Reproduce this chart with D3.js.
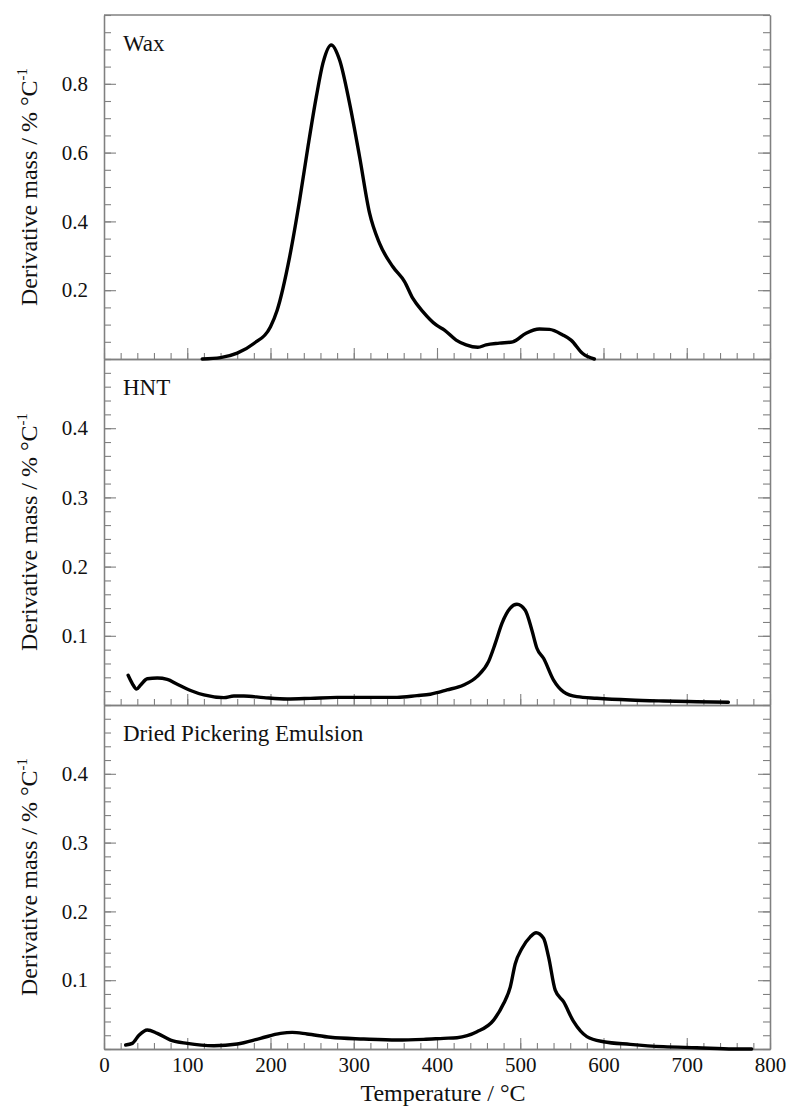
<!DOCTYPE html>
<html>
<head>
<meta charset="utf-8">
<script src="https://cdn.jsdelivr.net/npm/d3@7"></script>
<style>
  html, body { margin: 0; padding: 0; background: #fff; }
  svg { display: block; }
  svg text { font-family: "Liberation Serif", "Times New Roman", serif !important; fill: #111; }
</style>
</head>
<body>
<svg id="chart" width="788" height="1110"></svg>
<script>
// ---------------- data ----------------
const panelTitles = ["Wax", "HNT", "Dried Pickering Emulsion"];

const waxTemp  = [118, 140, 160, 180, 200, 208, 223, 235, 245, 255, 263, 273, 283, 295, 307, 319, 331, 347, 361, 371, 383, 399, 409, 423, 435, 449, 459, 475, 491, 507, 523, 535, 551, 561, 575, 589];
const waxDeriv = [0.000, 0.004, 0.017, 0.045, 0.094, 0.142, 0.297, 0.462, 0.617, 0.762, 0.860, 0.913, 0.869, 0.743, 0.588, 0.424, 0.336, 0.268, 0.225, 0.176, 0.138, 0.099, 0.084, 0.055, 0.041, 0.034, 0.041, 0.046, 0.050, 0.075, 0.087, 0.086, 0.070, 0.055, 0.016, 0.000];

const hntTemp  = [29, 34, 39, 44, 52, 64, 76, 88, 104, 120, 144, 156, 168, 192, 220, 248, 280, 320, 352, 376, 392, 412, 432, 448, 462, 470, 478, 488, 496, 506, 514, 520, 528, 540, 552, 568, 592, 632, 672, 712, 750];
const hntDeriv = [0.043, 0.031, 0.023, 0.029, 0.038, 0.039, 0.037, 0.030, 0.021, 0.0145, 0.0106, 0.013, 0.013, 0.0106, 0.0087, 0.0096, 0.011, 0.011, 0.011, 0.0135, 0.0155, 0.0217, 0.029, 0.041, 0.063, 0.089, 0.118, 0.140, 0.1455, 0.137, 0.108, 0.082, 0.0675, 0.036, 0.019, 0.012, 0.0097, 0.0072, 0.0058, 0.0048, 0.0039];

const dpeTemp  = [26, 34, 42, 52, 64, 80, 100, 132, 160, 188, 212, 226, 244, 272, 312, 352, 384, 408, 424, 448, 468, 480, 488, 494, 502, 512, 519, 528, 534, 542, 552, 564, 580, 600, 632, 672, 712, 756, 778];
const dpeDeriv = [0.0058, 0.0082, 0.020, 0.0276, 0.0227, 0.013, 0.0082, 0.0048, 0.0073, 0.0155, 0.0227, 0.0242, 0.0218, 0.017, 0.0145, 0.013, 0.014, 0.0155, 0.0164, 0.025, 0.042, 0.066, 0.090, 0.124, 0.146, 0.163, 0.169, 0.161, 0.134, 0.0856, 0.0687, 0.040, 0.018, 0.0106, 0.0068, 0.0034, 0.0019, 0.0, 0.0];

const xTickLabels   = [0, 100, 200, 300, 400, 500, 600, 700, 800];
const yTicksWax     = [0.2, 0.4, 0.6, 0.8];
const yTicksSmall   = [0.1, 0.2, 0.3, 0.4];
const yDomains      = [[0, 1.0], [0, 0.5], [0, 0.5]];
const yMinorSteps   = [0.05, 0.02, 0.02];

const xLabel = "Temperature / \u00B0C";
const yLabelMain = "Derivative mass / % \u00B0C";
const yLabelSup = "-1";

// ---------------- layout ----------------
const left = 104, right = 770;
const panelTop = [15, 359, 705];
const panelBottom = [359, 705, 1049];
const axisColor = "#808080";
const serif = "'Liberation Serif', 'Times New Roman', serif";

const svg = d3.select("#chart");
const x = d3.scaleLinear().domain([0, 800]).range([left, right]);

const series = [
  { t: waxTemp, v: waxDeriv, ticks: yTicksWax },
  { t: hntTemp, v: hntDeriv, ticks: yTicksSmall },
  { t: dpeTemp, v: dpeDeriv, ticks: yTicksSmall }
];

const xMinor = d3.range(0, 801, 20);

function styleAxis(g) {
  g.attr("font-family", null);
  g.selectAll("path.domain").attr("stroke", axisColor).attr("stroke-width", 1.3);
  g.selectAll(".tick line").attr("stroke", axisColor).attr("stroke-width", 1.1);
  g.selectAll(".tick text").style("font-family", serif).style("font-size", "21px").attr("fill", "#111");
}

series.forEach((s, i) => {
  const y = d3.scaleLinear().domain(yDomains[i]).range([panelBottom[i], panelTop[i]]);
  const step = yMinorSteps[i];
  const minor = d3.range(0, Math.round((yDomains[i][1]) / step) + 1).map(k => +(k * step).toFixed(4));
  const g = svg.append("g");

  // left minor ticks
  g.append("g").attr("transform", `translate(${left},0)`)
    .call(d3.axisLeft(y).tickValues(minor).tickSize(-7).tickSizeOuter(0).tickFormat(""))
    .call(styleAxis);
  // left major ticks with labels
  g.append("g").attr("transform", `translate(${left},0)`)
    .call(d3.axisLeft(y).tickValues(s.ticks).tickSize(-12).tickSizeOuter(0).tickPadding(16).tickFormat(d3.format(".1f")))
    .call(styleAxis);
  // right minor / major ticks
  g.append("g").attr("transform", `translate(${right},0)`)
    .call(d3.axisRight(y).tickValues(minor).tickSize(-7).tickSizeOuter(0).tickFormat(""))
    .call(styleAxis);
  g.append("g").attr("transform", `translate(${right},0)`)
    .call(d3.axisRight(y).tickValues(s.ticks).tickSize(-12).tickSizeOuter(0).tickFormat(""))
    .call(styleAxis);

  // bottom x ticks pointing up
  g.append("g").attr("transform", `translate(0,${panelBottom[i]})`)
    .call(d3.axisBottom(x).tickValues(xMinor).tickSize(-6).tickSizeOuter(0).tickFormat(""))
    .call(styleAxis);
  const xa = d3.axisBottom(x).tickValues(xTickLabels).tickSize(-11).tickSizeOuter(0).tickPadding(8);
  if (i < 2) xa.tickFormat("");
  g.append("g").attr("transform", `translate(0,${panelBottom[i]})`)
    .call(xa)
    .call(styleAxis);

  // panel title
  g.append("text")
    .attr("x", 123).attr("y", panelTop[i] + 36)
    .style("font-size", "23px")
    .text(panelTitles[i]);

  // y label
  const cy = (panelTop[i] + panelBottom[i]) / 2;
  const lab = g.append("text")
    .attr("transform", `translate(37,${cy}) rotate(-90)`)
    .attr("text-anchor", "middle")
    .style("font-size", "24px");
  lab.append("tspan").text(yLabelMain);
  lab.append("tspan").attr("dy", -10).style("font-size", "15px").text(yLabelSup);

  // data line
  const pts = s.t.map((t, k) => [t, s.v[k]]);
  g.append("path")
    .datum(pts)
    .attr("fill", "none")
    .attr("stroke", "#000")
    .attr("stroke-width", 3.4)
    .attr("stroke-linejoin", "round")
    .attr("stroke-linecap", "round")
    .attr("d", d3.line().x(d => x(d[0])).y(d => y(d[1])).curve(d3.curveMonotoneX));
});

// top frame line
svg.append("line")
  .attr("x1", x(0)).attr("x2", x(800))
  .attr("y1", panelTop[0]).attr("y2", panelTop[0])
  .attr("stroke", axisColor).attr("stroke-width", 1.3);

// x label
svg.append("text")
  .attr("x", (left + right) / 2 + 6).attr("y", 1101)
  .attr("text-anchor", "middle")
  .style("font-size", "24px")
  .text(xLabel);
</script>
</body>
</html>
